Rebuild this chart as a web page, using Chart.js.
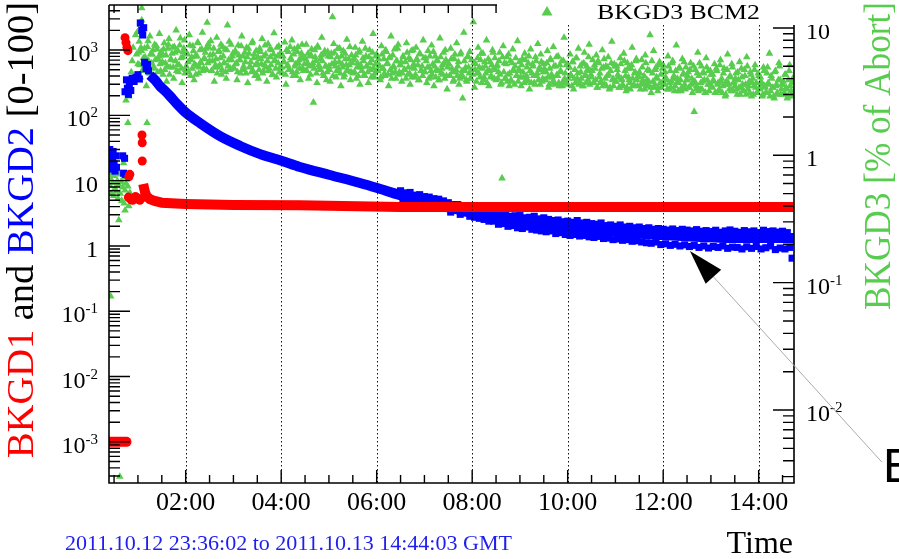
<!DOCTYPE html>
<html>
<head>
	<title>BKGD monitor</title>
	<script src="https://cdn.jsdelivr.net/npm/chart.js"></script>
	<style>body { margin: 0; background: #fff; }</style>
</head>
<body>
	<canvas id="myChart" width="899" height="559"></canvas>

	<script>
		// time axis: hours after 00:00 on 2011.10.13
		const hourTicks = [2, 4, 6, 8, 10, 12, 14];
		const hourLabels = ['02:00', '04:00', '06:00', '08:00', '10:00', '12:00', '14:00'];
		const leftDecades = [-3, -2, -1, 0, 1, 2, 3];
		const rightDecades = [-2, -1, 0, 1];

		// BKGD3 BCM2 (right axis, % of abort), readings every 0.025 h from 01:00
		const bkgd3Start = 1.0;
		const bkgd3Step = 0.025;
		const bkgd3 = [
			5.2, 7.8, 4.1, 6.6, 9.4, 4.8, 5.9, 3.5, 7.1, 5.5, 8.6, 4.4, 6.2, 5.0, 7.4, 3.9, 6.8, 5.7, 9.0, 4.6,
			6.1, 4.3, 7.6, 5.3, 3.8, 6.9, 8.2, 4.9, 5.6, 7.0, 4.0, 6.4, 9.6, 5.1, 4.5, 7.3, 5.8, 3.7, 6.5, 8.0,
			4.7, 6.3, 5.4, 8.8, 4.2, 5.9, 7.2, 3.9, 6.0, 5.0, 7.7, 4.4, 6.7, 5.3, 9.2, 4.8, 5.7, 6.9, 11.0, 7.5,
			5.5, 7.9, 4.6, 6.2, 3.8, 5.1, 8.4, 4.9, 6.6, 5.8, 4.3, 7.1, 5.3, 6.8, 4.0, 10.5, 5.6, 4.7, 7.4, 6.0,
			4.9, 6.4, 5.2, 3.9, 7.3, 5.6, 4.4, 8.6, 6.0, 4.7, 5.4, 7.0, 3.7, 6.3, 5.0, 4.5, 7.8, 5.8, 4.2, 6.6,
			5.3, 4.0, 6.9, 5.7, 8.2, 4.6, 5.1, 6.2, 3.8, 7.5, 4.8, 5.9, 6.7, 4.3, 9.1, 5.5, 4.1, 6.0, 7.2, 4.9,
			6.1, 4.4, 5.4, 7.7, 3.6, 5.0, 6.5, 4.7, 5.8, 8.0, 4.2, 6.8, 5.2, 4.5, 7.1, 5.6, 3.9, 6.3, 4.8, 5.9,
			4.6, 7.4, 5.3, 4.0, 6.0, 6.1, 5.1, 2.6, 6.7, 5.5, 3.7, 7.0, 4.9, 5.7, 8.4, 4.4, 6.2, 5.0, 3.9, 6.5,
			5.0, 3.8, 6.3, 12.2, 7.5, 5.4, 4.1, 5.9, 4.8, 6.9, 3.5, 5.2, 6.6, 4.3, 5.7, 8.1, 4.6, 5.1, 3.9, 6.1,
			4.4, 5.8, 7.0, 4.0, 5.3, 6.4, 3.6, 4.9, 7.8, 5.5, 4.2, 6.0, 5.0, 3.7, 6.7, 4.7, 5.6, 9.0, 4.1, 5.2,
			6.2, 4.6, 5.1, 3.9, 7.2, 4.8, 5.7, 4.2, 6.5, 5.3, 3.5, 5.9, 8.6, 4.4, 5.0, 6.8, 4.0, 5.5, 7.4, 4.5,
			5.1, 3.8, 6.0, 4.7, 5.4, 7.6, 4.3, 5.8, 3.6, 6.6, 4.9, 5.2, 4.1, 7.0, 5.6, 3.9, 6.3, 4.6, 5.0, 8.0,
			4.5, 5.8, 3.7, 6.6, 4.9, 4.1, 7.3, 5.2, 3.5, 6.0, 4.7, 5.5, 3.9, 8.3, 4.4, 5.1, 6.4, 4.0, 5.6, 3.3,
			5.3, 4.2, 6.9, 4.8, 3.8, 5.7, 4.5, 7.6, 5.0, 3.6, 6.2, 4.3, 2.8, 9.2, 4.6, 3.9, 5.9, 4.9, 6.5, 4.0,
			4.7, 11.1, 3.4, 5.2, 4.4, 7.0, 4.9, 5.6, 3.7, 6.3, 4.1, 5.0, 8.0, 4.6, 3.5, 5.4, 4.2, 6.7, 4.8, 5.8,
			3.9, 5.1, 4.5, 6.4, 3.6, 0.66, 7.2, 5.3, 4.0, 5.9, 4.3, 3.5, 5.5, 3.8, 6.8, 4.6, 5.0, 4.2, 7.9, 4.7,
			4.6, 3.5, 5.7, 4.1, 6.3, 3.8, 4.9, 5.3, 3.3, 6.8, 4.4, 5.0, 3.7, 5.9, 4.2, 7.5, 4.7, 3.6, 5.4, 4.0,
			5.2, 3.9, 4.5, 6.6, 3.4, 4.8, 5.6, 4.1, 7.1, 3.7, 5.0, 4.3, 6.0, 3.5, 4.6, 5.5, 3.8, 8.4, 4.4, 5.1,
			3.6, 4.9, 6.2, 4.2, 5.4, 3.3, 4.7, 5.8, 4.0, 6.9, 3.8, 4.5, 5.2, 3.5, 6.4, 4.3, 5.0, 3.9, 7.4, 4.6,
			4.1, 5.6, 3.7, 4.8, 6.1, 3.4, 5.3, 4.4, 3.8, 6.7, 4.9, 3.6, 5.0, 4.2, 5.9, 3.3, 4.6, 7.8, 4.0, 5.2,
			3.8, 5.0, 4.3, 3.4, 5.8, 4.0, 3.6, 6.3, 4.6, 3.2, 5.3, 4.1, 3.7, 4.8, 7.0, 3.5, 4.4, 5.5, 3.9, 4.2,
			4.5, 3.3, 5.6, 3.9, 4.2, 6.1, 3.5, 4.7, 3.8, 8.8, 3.1, 4.4, 6.6, 3.6, 4.9, 4.0, 3.4, 5.4, 4.3, 3.7,
			5.1, 3.6, 4.1, 3.9, 6.0, 3.3, 4.6, 3.8, 5.5, 4.2, 3.5, 7.3, 4.0, 3.7, 4.8, 3.2, 5.7, 4.4, 3.6, 4.9,
			3.9, 4.5, 3.4, 5.3, 4.0, 3.7, 2.2, 4.7, 3.5, 6.4, 4.2, 3.3, 5.0, 3.8, 4.4, 3.1, 5.8, 3.9, 4.6, 3.6,
			4.3, 3.4, 3.9, 5.2, 3.1, 4.6, 3.7, 3.3, 5.6, 4.0, 3.5, 4.8, 2.9, 3.8, 6.2, 3.6, 4.2, 3.2, 4.9, 3.7,
			3.5, 4.4, 3.0, 3.9, 5.4, 3.4, 4.1, 3.2, 4.7, 3.6, 5.9, 3.3, 3.8, 4.5, 2.9, 4.0, 3.5, 5.1, 3.7, 3.1,
			4.2, 3.3, 3.8, 2.9, 4.9, 3.5, 3.1, 4.4, 3.7, 6.3, 3.2, 4.0, 3.4, 2.8, 4.6, 3.6, 3.0, 5.3, 3.9, 3.3,
			3.6, 3.0, 4.3, 3.4, 2.8, 3.9, 5.1, 3.2, 3.7, 2.9
		];
		// second BCM2 channel reading, offset half a step
		const bkgd3bStart = 1.0125;
		const bkgd3b = [
			6.4, 5.1, 7.0, 4.6, 5.8, 6.9, 4.9, 5.5, 7.9, 4.4, 6.2, 5.3, 6.7, 4.8, 5.6, 7.2, 4.5, 6.0, 5.2, 6.5,
			5.4, 6.8, 4.7, 6.1, 5.0, 7.4, 4.3, 5.7, 6.3, 4.9, 7.1, 5.5, 4.6, 6.6, 5.1, 8.3, 4.8, 5.9, 6.9, 4.4,
			5.0, 6.2, 4.5, 7.3, 5.6, 4.8, 6.6, 5.2, 4.3, 6.0, 7.6, 4.9, 5.4, 6.8, 4.6, 5.8, 6.4, 4.7, 5.3, 7.0,
			6.1, 4.6, 5.5, 6.9, 4.9, 5.7, 4.4, 6.5, 5.1, 7.4, 4.7, 6.0, 5.3, 4.5, 6.7, 5.0, 7.8, 4.8, 5.6, 6.3,
			4.8, 6.6, 5.3, 4.5, 6.1, 5.6, 7.2, 4.7, 5.0, 6.4, 4.4, 5.9, 6.9, 4.9, 5.4, 7.6, 4.6, 6.2, 5.1, 4.3,
			5.9, 4.7, 6.5, 5.2, 4.4, 6.0, 7.3, 4.9, 5.5, 4.6, 6.8, 5.1, 4.3, 6.2, 5.6, 4.8, 7.0, 5.3, 4.5, 6.4,
			4.9, 6.0, 5.4, 4.3, 6.7, 5.1, 4.7, 7.1, 5.6, 4.5, 6.2, 5.0, 4.2, 6.5, 5.3, 4.8, 5.8, 7.4, 4.6, 5.2,
			5.7, 4.6, 6.3, 5.0, 4.3, 6.8, 5.3, 4.8, 5.9, 4.4, 7.2, 5.1, 4.7, 6.1, 5.5, 4.2, 6.6, 5.0, 4.5, 6.0,
			4.7, 5.9, 5.2, 4.2, 6.4, 5.0, 4.6, 6.9, 5.4, 4.4, 6.0, 4.9, 4.1, 6.3, 5.1, 4.7, 5.7, 7.1, 4.5, 5.3,
			5.6, 4.5, 6.1, 4.9, 4.2, 6.6, 5.1, 4.6, 5.8, 4.3, 6.9, 5.0, 4.5, 5.9, 5.3, 4.1, 6.4, 4.8, 4.4, 6.0,
			4.6, 5.7, 5.0, 4.1, 6.2, 4.8, 4.4, 6.7, 5.2, 4.3, 5.8, 4.7, 4.0, 6.1, 4.9, 4.5, 5.5, 6.9, 4.3, 5.1,
			5.4, 4.4, 5.9, 4.7, 4.0, 6.4, 4.9, 4.4, 5.6, 4.1, 6.7, 4.8, 4.3, 5.7, 5.1, 3.9, 6.2, 4.6, 4.2, 5.8,
			4.5, 5.5, 4.9, 4.0, 6.0, 4.6, 4.3, 6.5, 5.0, 4.1, 5.6, 4.6, 3.9, 5.9, 4.8, 4.3, 5.3, 6.7, 4.2, 4.9,
			5.2, 4.2, 5.7, 4.5, 3.9, 6.2, 4.7, 4.2, 5.4, 4.0, 6.4, 4.6, 4.1, 5.5, 4.9, 3.8, 6.0, 4.4, 4.0, 5.6,
			4.3, 5.3, 4.7, 3.8, 5.8, 4.4, 4.1, 6.3, 4.8, 3.9, 5.4, 4.4, 3.7, 5.7, 4.6, 4.1, 5.1, 6.4, 4.0, 4.7,
			5.0, 4.0, 5.5, 4.3, 3.7, 5.9, 4.5, 4.0, 5.2, 3.8, 6.2, 4.4, 3.9, 5.3, 4.7, 3.6, 5.8, 4.2, 3.8, 5.4,
			4.1, 5.1, 4.5, 3.7, 5.6, 4.2, 3.9, 6.0, 4.6, 3.7, 5.2, 4.2, 3.6, 5.5, 4.4, 3.9, 4.9, 6.2, 3.8, 4.5,
			4.8, 3.9, 5.3, 4.1, 3.6, 5.7, 4.3, 3.8, 5.0, 3.6, 5.9, 4.2, 3.7, 5.1, 4.5, 3.5, 5.5, 4.0, 3.7, 5.2,
			4.0, 4.9, 4.3, 3.5, 5.4, 4.0, 3.7, 5.8, 4.4, 3.6, 5.0, 4.0, 3.5, 5.3, 4.2, 3.7, 4.7, 5.9, 3.6, 4.3,
			4.6, 3.7, 5.1, 3.9, 3.4, 5.5, 4.1, 3.7, 4.8, 3.5, 5.7, 4.0, 3.5, 4.9, 4.3, 3.4, 5.3, 3.9, 3.5, 5.0,
			3.8, 4.7, 4.1, 3.4, 5.2, 3.9, 3.5, 5.5, 4.2, 3.4, 4.8, 3.9, 3.3, 5.1, 4.0, 3.6, 4.5, 5.7, 3.5, 4.1,
			4.4, 3.6, 4.9, 3.7, 3.3, 5.3, 3.9, 3.5, 4.6, 3.4, 5.5, 3.8, 3.4, 4.7, 4.1, 3.2, 5.1, 3.7, 3.4, 4.8,
			3.7, 4.5, 3.9, 3.3, 5.0, 3.7, 3.4, 5.3, 4.0, 3.2, 4.6, 3.7, 3.2, 4.9, 3.9, 3.4, 4.3, 5.4, 3.3, 3.9,
			4.2, 3.4, 4.7, 3.6, 3.1, 5.0, 3.8, 3.3, 4.4, 3.2, 5.3, 3.7, 3.3, 4.5, 3.9, 3.1, 4.9, 3.6, 3.2, 4.6,
			3.5, 4.3, 3.8, 3.1, 4.8, 3.6, 3.2, 5.1, 3.8, 3.1, 4.4, 3.6, 3.0, 4.7, 3.7, 3.3, 4.1, 5.2, 3.2, 3.8,
			4.0, 3.3, 4.5, 3.4, 3.0, 4.8, 3.6, 3.2, 4.2, 3.0, 5.0, 3.5, 3.1, 4.3, 3.7, 3.0, 4.7, 3.4, 3.1, 4.4,
			3.4, 4.1, 3.6, 3.0, 4.6, 3.4, 3.1, 4.9, 3.6, 2.9, 4.2, 3.4, 2.9, 4.5, 3.5, 3.1, 3.9, 5.0, 3.0, 3.6,
			3.8, 3.1, 4.3, 3.3, 2.9, 4.6, 3.5, 3.0, 4.0, 3.2
		];
		// BKGD3 before injection settled
		const bkgd3EarlyT = [0.40, 0.41, 0.43, 0.44, 0.46, 0.47, 0.49, 0.50, 0.52, 0.53, 0.55, 0.57, 0.58, 0.60, 0.61, 0.63, 0.65, 0.66, 0.68, 0.70, 0.71, 0.73, 0.75, 0.77, 0.79, 0.81, 0.83,
			0.43, 0.62, 0.60, 0.73, 0.70, 0.75, 0.79, 0.81, 0.83, 0.79, 1.19, 0.86, 0.88, 0.90, 0.92, 0.93, 0.95, 0.97, 0.99, 1.08, 1.08, 1.06];
		const bkgd3EarlyV = [0.72, 0.58, 0.65, 0.50, 0.77, 0.61, 0.48, 0.69, 0.55, 0.74, 0.52, 0.63, 0.46, 0.59, 0.71, 0.50, 0.62, 0.44, 0.56, 0.67, 0.42, 0.53, 0.60, 0.47, 0.57, 0.40, 0.51,
			0.078, 0.003, 0.31, 0.37, 0.87, 2.7, 3.3, 2.9, 3.7, 1.8, 1.8, 4.5, 5.5, 7.0, 3.9, 4.1, 8.8, 6.2, 9.3, 14.3, 11.5, 10.6];

		// BKGD2 (left axis) decay after injection
		const bkgd2T = [1.25, 1.36, 1.46, 1.57, 1.67, 1.82, 1.99, 2.30, 2.72, 3.14, 3.56, 4.02, 4.39, 5.02, 5.65, 6.01, 6.49, 7.12, 7.74, 7.99, 8.58, 9.21, 9.99, 10.68, 11.31, 11.99, 12.77, 13.40, 13.99, 14.74];
		const bkgd2V = [414, 347, 281, 236, 198, 149, 112, 76, 48, 34, 25.5, 20, 16.2, 12.2, 9.2, 7.7, 6.0, 4.5, 3.55, 3.2, 2.67, 2.32, 1.95, 1.75, 1.58, 1.47, 1.37, 1.32, 1.32, 1.32];
		// BKGD2 spread, readings every 0.05 h from 06:30
		const bkgd2SpreadStart = 6.5;
		const bkgd2SpreadStep = 0.05;
		const bkgd2Spread = [
			7.0, 5.2, 6.5, 5.4, 6.6, 4.8, 6.0, 5.1, 6.1, 4.5, 5.7, 4.8, 5.6, 4.2, 5.3, 4.4, 5.2, 3.9, 4.9, 4.1,
			4.6, 3.3, 4.3, 3.5, 4.3, 3.05, 3.95, 3.2, 3.8, 2.85, 3.7, 2.75, 3.55, 2.65, 3.35, 2.55, 3.4, 2.4, 3.15, 2.4,
			3.2, 2.15, 3.0, 2.2, 3.1, 2.0, 2.85, 2.05, 2.9, 1.9, 3.0, 1.85, 2.7, 1.95, 2.75, 1.8, 2.85, 1.75, 2.6, 1.7,
			2.7, 1.65, 2.55, 1.7, 2.45, 1.55, 2.5, 1.6, 2.35, 1.5, 2.4, 1.45, 2.3, 1.5, 2.45, 1.42, 2.25, 1.45, 2.3, 1.38,
			2.2, 1.35, 2.15, 1.4, 2.25, 1.3, 2.05, 1.32, 2.1, 1.25, 2.0, 1.28, 2.1, 1.22, 1.95, 1.25, 2.0, 1.18, 1.9, 1.2,
			1.95, 1.15, 1.85, 1.12, 1.9, 1.1, 1.8, 1.15, 1.85, 1.05, 1.8, 1.08, 1.75, 1.02, 1.82, 1.06, 1.72, 1.0, 1.8, 1.04,
			1.75, 0.98, 1.7, 1.02, 1.78, 0.95, 1.68, 1.0, 1.72, 0.93, 1.66, 0.98, 1.74, 0.95, 1.62, 1.0, 1.7, 0.92, 1.76, 0.96,
			1.68, 0.95, 1.62, 0.9, 1.72, 0.97, 1.65, 0.92, 1.7, 0.98, 1.6, 0.9, 1.74, 0.94, 1.66, 1.0, 1.7, 0.88, 1.63, 0.93,
			1.68, 0.9, 1.6, 0.95, 0.65
		];
		const bkgd2EarlyT = [0.40, 0.41, 0.42, 0.44, 0.45, 0.47, 0.48, 0.50, 0.52, 0.53, 0.55, 0.68, 0.70, 0.72, 0.74,
			0.73, 0.76, 0.78, 0.80, 0.82, 0.85, 0.88, 0.92, 0.96, 1.00, 1.03, 1.05, 1.08, 1.10, 1.12, 1.14, 1.17, 1.20, 1.22];
		const bkgd2EarlyV = [22, 30, 17, 26, 15, 20, 28, 18, 14, 24, 16, 24, 13, 22, 12.5,
			230, 350, 260, 210, 300, 240, 370, 330, 380, 420, 360, 2600, 2000, 1700, 2200, 650, 520, 600, 480];

		// BKGD1 (left axis)
		const bkgd1T = [1.11, 1.13, 1.15, 1.18, 1.25, 1.35, 1.50, 1.70, 2.00, 2.50, 3.00, 4.39, 6.49, 9.00, 12.00, 14.74];
		const bkgd1V = [8.9, 7.6, 6.6, 5.8, 5.2, 4.9, 4.6, 4.5, 4.4, 4.3, 4.25, 4.2, 3.95, 3.95, 3.95, 3.95];
		const bkgd1LowT = [0.38, 0.76];
		const bkgd1LowV = [0.001, 0.001];
		const bkgd1DotsT = [0.73, 0.75, 0.77, 0.79, 0.80, 0.83, 0.86, 0.89, 0.92, 0.95, 0.98, 1.01, 1.04, 1.07, 0.81, 0.83, 1.085, 1.09, 1.09];
		const bkgd1DotsV = [1550, 1300, 1100, 980, 5.6, 5.3, 5.1, 5.0, 5.4, 5.7, 5.5, 5.2, 5.0, 5.3, 11.5, 12.5, 50, 38, 20];

		const RED = 'rgb(255,0,0)';
		const BLUE = 'rgb(0,0,255)';
		const GREEN = 'rgb(88,204,78)';
		const SERIF = '"Liberation Serif", "DejaVu Serif", serif';

		const pairs = (ts, vs) => ts.map((t, i) => ({x: t, y: vs[i]}));
		const series = (start, step, vs) => vs.map((v, i) => ({x: start + i * step, y: v}));

		// "10^n" label with raised exponent
		function powLabel(ctx, exp, x, y, align) {
			const base = exp === 0 ? '1' : '10';
			const sup = exp === 0 || exp === 1 ? '' : String(exp);
			ctx.font = '24px ' + SERIF;
			const wb = ctx.measureText(base).width;
			ctx.font = '15px ' + SERIF;
			const ws = sup ? ctx.measureText(sup).width : 0;
			const x0 = align === 'right' ? x - wb - ws : x;
			ctx.textAlign = 'left';
			ctx.textBaseline = 'alphabetic';
			ctx.font = '24px ' + SERIF;
			ctx.fillText(base, x0, y);
			if (sup) {
				ctx.font = '15px ' + SERIF;
				ctx.fillText(sup, x0 + wb, y - 9);
			}
		}

		// draw text pieces, stretched to a given width
		function fitText(ctx, parts, font, width) {
			ctx.font = font;
			const total = parts.reduce((s, p) => s + ctx.measureText(p[0]).width, 0);
			ctx.scale(width / total, 1);
			let x = 0;
			parts.forEach(p => {
				ctx.fillStyle = p[1];
				ctx.fillText(p[0], x, 0);
				x += ctx.measureText(p[0]).width;
			});
		}

		const rootFrame = {
			id: 'rootFrame',
			afterDatasetsDraw(chart) {
				const ctx = chart.ctx;
				const {left, right, top, bottom} = chart.chartArea;
				const xs = chart.scales.x, yl = chart.scales.y, yr = chart.scales.y2;
				ctx.save();

				// dotted time grid
				ctx.strokeStyle = '#111';
				ctx.lineWidth = 1;
				ctx.setLineDash([1.5, 2.5]);
				hourTicks.forEach(h => {
					const X = Math.round(xs.getPixelForValue(h)) + 0.5;
					ctx.beginPath(); ctx.moveTo(X, top); ctx.lineTo(X, bottom); ctx.stroke();
				});
				ctx.setLineDash([]);

				// frame
				ctx.strokeStyle = '#000';
				ctx.lineWidth = 1.6;
				ctx.beginPath();
				ctx.moveTo(left, top); ctx.lineTo(right, top);
				ctx.moveTo(left, top); ctx.lineTo(left, bottom); ctx.lineTo(right, bottom); ctx.lineTo(right, top);
				ctx.stroke();

				// time ticks, bottom and top
				ctx.lineWidth = 1.4;
				ctx.beginPath();
				for (let h = Math.ceil(xs.min * 2) / 2; h <= xs.max; h += 0.5) {
					const X = xs.getPixelForValue(h);
					const len = hourTicks.includes(h) ? 13 : 8;
					ctx.moveTo(X, bottom); ctx.lineTo(X, bottom - len);
					ctx.moveTo(X, top); ctx.lineTo(X, top + len);
				}
				ctx.stroke();

				// log ticks, left and right
				ctx.beginPath();
				for (let d = -5; d <= 4; d++) {
					for (let k = 1; k <= 9; k++) {
						const v = k * Math.pow(10, d);
						const len = k === 1 ? 21 : 11;
						if (v >= yl.min && v <= yl.max) {
							const Y = yl.getPixelForValue(v);
							ctx.moveTo(left, Y); ctx.lineTo(left + len, Y);
						}
						if (v >= yr.min && v <= yr.max) {
							const Y = yr.getPixelForValue(v);
							ctx.moveTo(right, Y); ctx.lineTo(right - len, Y);
						}
					}
				}
				ctx.stroke();

				// tick labels
				ctx.fillStyle = '#000';
				leftDecades.forEach(e => powLabel(ctx, e, left - 11, yl.getPixelForValue(Math.pow(10, e)) + 11, 'right'));
				rightDecades.forEach(e => powLabel(ctx, e, right + 12, yr.getPixelForValue(Math.pow(10, e)) + 11, 'left'));
				ctx.font = '26px ' + SERIF;
				ctx.textAlign = 'center';
				hourTicks.forEach((h, i) => ctx.fillText(hourLabels[i], xs.getPixelForValue(h), bottom + 27));

				// legend box over the top right
				ctx.fillStyle = '#fff';
				ctx.fillRect(497, 0, chart.width - 497, 25);
				ctx.fillStyle = GREEN;
				ctx.beginPath();
				ctx.moveTo(547, 6); ctx.lineTo(541.5, 15.5); ctx.lineTo(552.5, 15.5); ctx.closePath();
				ctx.fill();
				ctx.textAlign = 'left';
				ctx.save();
				ctx.translate(597, 19);
				fitText(ctx, [['BKGD3 BCM2', '#000']], '21px ' + SERIF, 163);
				ctx.restore();

				// axis titles
				ctx.save();
				ctx.translate(33, 458);
				ctx.rotate(-Math.PI / 2);
				fitText(ctx, [['BKGD1', RED], [' and ', '#000'], ['BKGD2', BLUE], [' [0-100]', '#000']], '37px ' + SERIF, 456);
				ctx.restore();
				ctx.save();
				ctx.translate(890, 310);
				ctx.rotate(-Math.PI / 2);
				fitText(ctx, [['BKGD3 [% of Abort]', GREEN]], '37px ' + SERIF, 308);
				ctx.restore();

				ctx.save();
				ctx.translate(65, 550);
				fitText(ctx, [['2011.10.12 23:36:02 to 2011.10.13 14:44:03 GMT', 'rgb(30,30,240)']], '22px ' + SERIF, 447);
				ctx.restore();
				ctx.fillStyle = '#000';
				ctx.font = '32px ' + SERIF;
				ctx.textAlign = 'right';
				ctx.fillText('Time', 793, 553);

				// arrow pointing at the BKGD2 band
				const tip = {x: xs.getPixelForValue(12.56), y: yl.getPixelForValue(0.84)};
				const tail = {x: xs.getPixelForValue(16.58), y: yl.getPixelForValue(4.9e-4)};
				const dx = tail.x - tip.x, dy = tail.y - tip.y, L = Math.hypot(dx, dy);
				const ux = dx / L, uy = dy / L;
				const bx = tip.x + ux * 35, by = tip.y + uy * 35;
				ctx.strokeStyle = '#aaa';
				ctx.lineWidth = 1;
				ctx.beginPath(); ctx.moveTo(bx, by); ctx.lineTo(tail.x, tail.y); ctx.stroke();
				ctx.fillStyle = '#000';
				ctx.beginPath();
				ctx.moveTo(tip.x, tip.y);
				ctx.lineTo(bx - uy * 10.5, by + ux * 10.5);
				ctx.lineTo(bx + uy * 10.5, by - ux * 10.5);
				ctx.closePath();
				ctx.fill();
				ctx.font = '48px "Liberation Sans", sans-serif';
				ctx.textAlign = 'left';
				ctx.fillText('E', 883, 482);

				ctx.restore();
			}
		};

		const green = { yAxisID: 'y2', pointStyle: 'triangle', pointRadius: 4.4, backgroundColor: GREEN, borderWidth: 0, order: 3 };

		const ctx = document.getElementById('myChart').getContext('2d');
		const chart = new Chart(ctx, {
			type: 'scatter',
			data: {
				datasets: [
					Object.assign({ label: 'BKGD3 BCM2', data: series(bkgd3Start, bkgd3Step, bkgd3) }, green),
					Object.assign({ label: 'BKGD3 BCM2 b', data: series(bkgd3bStart, bkgd3Step, bkgd3b) }, green),
					Object.assign({ label: 'BKGD3 early', data: pairs(bkgd3EarlyT, bkgd3EarlyV) }, green),
					{ label: 'BKGD2', data: pairs(bkgd2T, bkgd2V), yAxisID: 'y', showLine: true, borderColor: BLUE, borderWidth: 10, pointRadius: 0, cubicInterpolationMode: 'monotone', order: 2 },
					{ label: 'BKGD2 spread', data: series(bkgd2SpreadStart, bkgd2SpreadStep, bkgd2Spread), yAxisID: 'y', pointStyle: 'rect', pointRadius: 5, backgroundColor: BLUE, borderWidth: 0, order: 2 },
					{ label: 'BKGD2 early', data: pairs(bkgd2EarlyT, bkgd2EarlyV), yAxisID: 'y', pointStyle: 'rect', pointRadius: 5, backgroundColor: BLUE, borderWidth: 0, order: 2 },
					{ label: 'BKGD1', data: pairs(bkgd1T, bkgd1V), yAxisID: 'y', showLine: true, borderColor: RED, borderWidth: 10, pointRadius: 0, order: 1 },
					{ label: 'BKGD1 low', data: pairs(bkgd1LowT, bkgd1LowV), yAxisID: 'y', showLine: true, borderColor: RED, borderWidth: 10, borderCapStyle: 'round', pointRadius: 0, order: 1 },
					{ label: 'BKGD1 dots', data: pairs(bkgd1DotsT, bkgd1DotsV), yAxisID: 'y', pointStyle: 'circle', pointRadius: 4.5, backgroundColor: RED, borderWidth: 0, order: 1 }
				]
			},
			options: {
				responsive: false,
				animation: false,
				devicePixelRatio: 1,
				layout: { padding: { left: 109, top: 5, right: 105, bottom: 76 } },
				plugins: { legend: { display: false }, tooltip: { enabled: false } },
				scales: {
					x: { type: 'linear', min: 0.394, max: 14.74, display: false },
					y: { type: 'logarithmic', min: Math.pow(10, -3.63), max: Math.pow(10, 3.69), display: false },
					y2: { type: 'logarithmic', min: Math.pow(10, -2.573), max: Math.pow(10, 1.18), display: false }
				}
			},
			plugins: [rootFrame]
		});
	</script>
</body>
</html>
